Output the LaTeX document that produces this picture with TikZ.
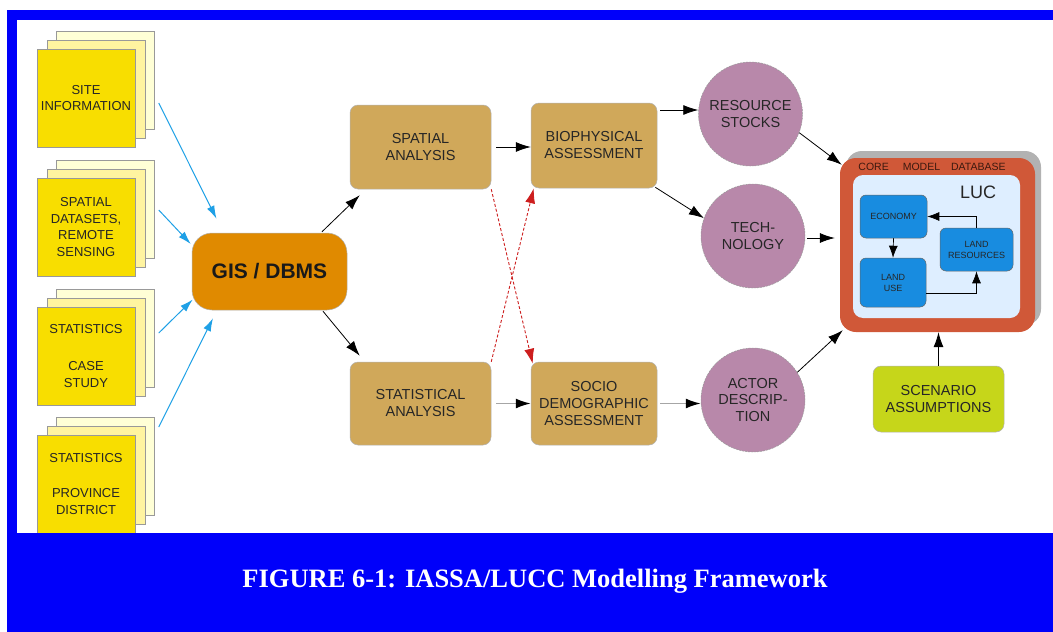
\documentclass[tikz,border=0pt]{standalone}
\usepackage{fontspec}
\setmainfont{Liberation Sans}
\newfontfamily\capfont{Liberation Serif}
\usetikzlibrary{arrows.meta}
\definecolor{frameblue}{RGB}{0,0,250}
\definecolor{docfront}{RGB}{248,222,0}
\definecolor{docmid}{RGB}{255,244,160}
\definecolor{docback}{RGB}{255,255,214}
\definecolor{gisorange}{RGB}{224,138,0}
\definecolor{tanfill}{RGB}{208,168,90}
\definecolor{mauve}{RGB}{184,136,170}
\definecolor{corered}{RGB}{208,88,56}
\definecolor{innerblue}{RGB}{222,238,255}
\definecolor{boxblue}{RGB}{24,140,224}
\definecolor{scengreen}{RGB}{198,214,26}
\definecolor{cyanarrow}{RGB}{30,160,230}
\definecolor{dashred}{RGB}{205,30,30}
\definecolor{coretext}{RGB}{60,25,15}
\begin{document}
\begin{tikzpicture}[x=1pt,y=-1pt,
  page/.style={rectangle, draw=black!40, line width=0.5pt, minimum width=98pt, minimum height=98pt, inner sep=0pt, align=center, font=\fontsize{13}{16.7}\selectfont, text=black!85},
  pageF/.style={page, fill=docfront},
  pageM/.style={page, fill=docmid},
  pageB/.style={page, fill=docback},
  tanbox/.style={rectangle, rounded corners=8pt, fill=tanfill, draw=black!30, line width=0.5pt, inner sep=0pt, align=center, font=\fontsize{14.5}{17}\selectfont, text=black!85},
  disc/.style={circle, fill=mauve, draw=black!40, dash pattern=on 2pt off 1pt, line width=0.5pt, minimum size=104pt, inner sep=0pt, align=center, font=\fontsize{14.5}{16.7}\selectfont, text=black!85},
  bluebox/.style={rectangle, rounded corners=6pt, fill=boxblue, draw=black!60, line width=0.5pt, inner sep=0pt, align=center, font=\fontsize{9}{11}\selectfont, text=black!85},
  arr/.style={-{Latex[length=15pt,width=10pt]}, line width=0.8pt, draw=black},
  grayarr/.style={-{Latex[length=15pt,width=10pt,color=black]}, line width=1.6pt, draw=black!35},
  bluearr/.style={-{Latex[length=13pt,width=8pt]}, line width=1pt, draw=cyanarrow},
  redarr/.style={-{Latex[length=15pt,width=10pt]}, line width=0.9pt, draw=dashred, dash pattern=on 3pt off 2pt},
  smallarr/.style={-{Latex[length=12pt,width=9pt]}, line width=0.7pt, draw=black}
]
\useasboundingbox (0,0) rectangle (1053,632);
% frame
\fill[frameblue] (7,10) rectangle (1053,632);
\fill[white] (17,20) rectangle (1053,533);

% document stacks
\foreach \n/\cy in {1/98,2/227,3/356,4/484}{
  \node[pageB] (b\n) at (105.5,\cy-18) {};
  \node[pageM] (m\n) at (96,\cy-9) {};
}
\node[pageF] (f1) at (86,98) {SITE\\INFORMATION};
\node[pageF] (f2) at (86,227) {SPATIAL\\DATASETS,\\REMOTE\\SENSING};
\node[pageF] (f3) at (86,356) {STATISTICS\\[21pt]CASE\\STUDY};
\node[pageF] (f4) at (86,484) {STATISTICS\\[19pt]PROVINCE\\DISTRICT};

% GIS
\node[rectangle, rounded corners=20pt, fill=gisorange, draw=black!30, line width=0.5pt, minimum width=155pt, minimum height=77pt, inner sep=0pt, font=\fontsize{21}{24}\bfseries\selectfont, text=black!90] (gis) at (269.5,271.5) {GIS / DBMS};

% analysis boxes
\node[tanbox, minimum width=141pt, minimum height=84pt] (spatial) at (420.5,147) {SPATIAL\\ANALYSIS};
\node[tanbox, minimum width=141pt, minimum height=83pt] (stat) at (420.5,403.5) {STATISTICAL\\ANALYSIS};
\node[tanbox, minimum width=126pt, minimum height=85pt] (bio) at (594,145.5) {BIOPHYSICAL\\ASSESSMENT};
\node[tanbox, minimum width=126pt, minimum height=83pt] (socio) at (594,403.5) {SOCIO\\DEMOGRAPHIC\\ASSESSMENT};

% circles
\node[disc] (rs) at (750.5,114) {RESOURCE\\STOCKS};
\node[disc] (tech) at (753,236) {TECH-\\NOLOGY};
\node[disc] (actor) at (753,400) {ACTOR\\DESCRIP-\\TION};

% core model database
\node[rectangle, rounded corners=16pt, fill=black!30, minimum width=195pt, minimum height=174pt, inner sep=0pt] (coreshadow) at (943.5,238) {};
\node[rectangle, rounded corners=16pt, fill=corered, minimum width=195pt, minimum height=174pt, inner sep=0pt] (core) at (937.5,245) {};
\node[rectangle, rounded corners=10pt, fill=innerblue, minimum width=167pt, minimum height=143pt, inner sep=0pt] (inner) at (936.5,246.5) {};
\node[font=\fontsize{10.5}{12}\selectfont, text=coretext, inner sep=0pt] (coretitle) at (932,167) {CORE\hspace{14pt}MODEL\hspace{11pt}DATABASE};
\node[font=\fontsize{18}{20}\selectfont, text=black!85, inner sep=0pt] (luc) at (978,192) {LUC};
\node[bluebox, minimum width=67pt, minimum height=43pt] (econ) at (893.5,216.5) {ECONOMY};
\node[bluebox, minimum width=66pt, minimum height=49pt] (landuse) at (893,282.5) {LAND\\USE};
\node[bluebox, minimum width=73pt, minimum height=43pt] (landres) at (976.5,249.5) {LAND\\RESOURCES};

% scenario
\node[rectangle, rounded corners=8pt, fill=scengreen, draw=black!30, line width=0.5pt, minimum width=131pt, minimum height=66pt, inner sep=0pt, align=center, font=\fontsize{14.5}{16.5}\selectfont, text=black!85] (scen) at (938.5,399) {SCENARIO\\ASSUMPTIONS};

% inner arrows
\draw[smallarr] (econ.south) -- (landuse.north);
\draw[smallarr] ([yshift=-10.5pt]landuse.east) -| (landres.south);
\draw[smallarr] (landres.north) |- (econ.east);

% blue arrows
\draw[bluearr] ([shift={(4,23)}]b1.east) -- ([shift={(-53,-14)}]gis.north);
\draw[bluearr] ([shift={(4,1)}]b2.east) -- ([shift={(-1,-27.5)}]gis.west);
\draw[bluearr] ([shift={(4,-5)}]b3.east) -- ([shift={(1,28)}]gis.west);
\draw[bluearr] ([shift={(4,-39)}]b4.east) -- ([shift={(-56.5,8)}]gis.south);

% black arrows from GIS
\draw[arr] ([shift={(52.5,-1)}]gis.north) -- ([shift={(10,6)}]spatial.south west);
\draw[arr] ([shift={(53.5,1)}]gis.south) -- ([shift={(10,-6)}]stat.north west);

% analysis to assessment
\draw[arr] ([xshift=5pt]spatial.east) -- (spatial.east -| bio.west);
\draw[grayarr] ([xshift=5pt]stat.east) -- (stat.east -| socio.west);
\draw[redarr] (spatial.south east) -- ([shift={(2,2)}]socio.north west);
\draw[redarr] (stat.north east) -- ([shift={(3,0)}]bio.south west);

% assessment to circles
\draw[arr] ([shift={(3,-35.5)}]bio.east) -- ([yshift=4pt]rs.west);
\draw[arr] ([shift={(-2,-1)}]bio.south east) -- (tech.160);
\draw[grayarr] ([xshift=3pt]socio.east) -- (socio.east -| actor.west);

% circles to core
\draw[arr] (rs.-21) -- ([shift={(2,7)}]core.north west);
\draw[arr] ([shift={(2,2)}]tech.east) -- ([shift={(-5,-7)}]core.west);
\draw[arr] (actor.32) -- ([shift={(3,-2)}]core.south west);
\draw[arr] (scen.north) -- (scen.north |- core.south);

% bottom bar and caption
\fill[frameblue] (7,533) rectangle (1053,632);
\node[anchor=base, text=white, font=\capfont\bfseries\fontsize{26.5}{30}\selectfont, inner sep=0pt] (caption) at (535,587) {FIGURE 6-1: IASSA/LUCC Modelling Framework};
\end{tikzpicture}
\end{document}
